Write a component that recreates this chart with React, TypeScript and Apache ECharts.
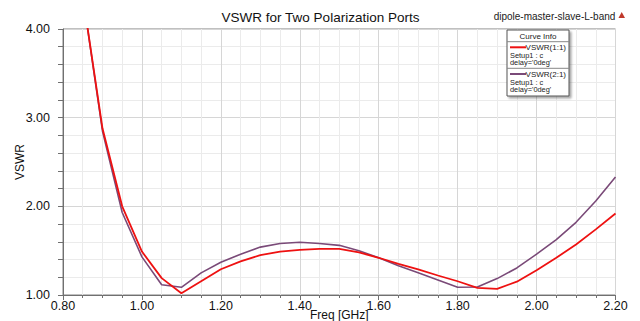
import React, { useEffect, useRef } from "react";
import * as echarts from "echarts";

const freqs = [0.85, 0.9, 0.95, 1.0, 1.05, 1.1, 1.15, 1.2, 1.25, 1.3, 1.35, 1.4, 1.45, 1.5, 1.55, 1.6, 1.65, 1.7, 1.75, 1.8, 1.85, 1.9, 1.95, 2.0, 2.05, 2.1, 2.15, 2.2];
const vswr11 = [4.38, 2.88, 2.0, 1.49, 1.19, 1.02, 1.155, 1.29, 1.38, 1.45, 1.49, 1.51, 1.52, 1.52, 1.48, 1.42, 1.35, 1.29, 1.22, 1.155, 1.08, 1.07, 1.15, 1.28, 1.42, 1.57, 1.74, 1.92];
const vswr21 = [4.38, 2.85, 1.93, 1.43, 1.115, 1.087, 1.25, 1.37, 1.46, 1.54, 1.58, 1.595, 1.58, 1.56, 1.5, 1.42, 1.33, 1.25, 1.17, 1.087, 1.09, 1.185, 1.305, 1.46, 1.625, 1.82, 2.06, 2.33];
const seriesNames = ["VSWR(1:1)", "VSWR(2:1)"];
const seriesColors = ["#ee1111", "#7a4a78"];
const legendSub1 = "Setup1 : c";
const legendSub2 = "delay='0deg'";
const titleText = "VSWR for Two Polarization Ports";
const projectText = "dipole-master-slave-L-band";
const xName = "Freq [GHz]";
const yName = "VSWR";

export default function App() {
  const ref = useRef<HTMLDivElement>(null);
  useEffect(() => {
    if (!ref.current) return;
    const chart = echarts.init(ref.current, null, { renderer: "svg" });
    const font = "Arial, 'Liberation Sans', sans-serif";
    const legendX = 507;
    const legendY = 30;
    const legendEntry = (i: number, y0: number) => [
      { type: "line", z: 11, shape: { x1: legendX + 3, y1: y0, x2: legendX + 19, y2: y0 }, style: { stroke: seriesColors[i], lineWidth: 2 } },
      { type: "text", z: 11, x: legendX + 59, y: y0, style: { text: seriesNames[i], fill: "#222", font: `8px ${font}`, align: "right", verticalAlign: "middle" } },
      { type: "text", z: 11, x: legendX + 3, y: y0 + 8, style: { text: legendSub1, fill: "#222", font: `7.4px ${font}`, align: "left", verticalAlign: "middle" } },
      { type: "text", z: 11, x: legendX + 3, y: y0 + 15.6, style: { text: legendSub2, fill: "#222", font: `7.4px ${font}`, align: "left", verticalAlign: "middle" } },
    ];
    chart.setOption({
      animation: false,
      backgroundColor: "#ffffff",
      grid: { left: 63, right: 24.5, top: 29, bottom: 26, outerBoundsMode: "none", containLabel: false, show: true, borderColor: "#808080", borderWidth: 1, backgroundColor: "transparent" },
      xAxis: {
        type: "value", min: 0.8, max: 2.2, interval: 0.2,
        name: xName, nameLocation: "middle", nameGap: 14, nameMoveOverlap: false,
        nameTextStyle: { fontSize: 12, color: "#111", fontFamily: font, verticalAlign: "top" },
        axisLine: { lineStyle: { color: "#707070" } },
        axisTick: { show: true, length: 5, lineStyle: { color: "#707070" } },
        minorTick: { show: true, splitNumber: 4, length: 3, lineStyle: { color: "#707070" } },
        axisLabel: { formatter: (v: number) => v.toFixed(2), fontSize: 12.5, color: "#111", fontFamily: font, margin: 4 },
        splitLine: { show: true, lineStyle: { color: "#d6d6d6" } },
        minorSplitLine: { show: true, lineStyle: { color: "#ebebeb" } },
      },
      yAxis: {
        type: "value", min: 1, max: 4, interval: 1,
        name: yName, nameLocation: "middle", nameGap: 37, nameMoveOverlap: false,
        nameTextStyle: { fontSize: 12, color: "#111", fontFamily: font },
        axisLine: { show: true, lineStyle: { color: "#707070" } },
        axisTick: { show: true, length: 5, lineStyle: { color: "#707070" } },
        minorTick: { show: true, splitNumber: 5, length: 5, lineStyle: { color: "#707070" } },
        axisLabel: { formatter: (v: number) => v.toFixed(2), fontSize: 12.5, color: "#111", fontFamily: font, margin: 13 },
        splitLine: { show: true, lineStyle: { color: "#d6d6d6" } },
        minorSplitLine: { show: true, lineStyle: { color: "#ebebeb" } },
      },
      series: [
        { name: seriesNames[1], type: "line", data: freqs.map((f, i) => [f, vswr21[i]]), showSymbol: false, clip: true, z: 2, lineStyle: { color: seriesColors[1], width: 1.6 }, itemStyle: { color: seriesColors[1] } },
        { name: seriesNames[0], type: "line", data: freqs.map((f, i) => [f, vswr11[i]]), showSymbol: false, clip: true, z: 3, lineStyle: { color: seriesColors[0], width: 1.8 }, itemStyle: { color: seriesColors[0] } },
      ],
      graphic: [
        { type: "text", x: 320.5, y: 17, style: { text: titleText, fill: "#111", font: `13.5px ${font}`, align: "center", verticalAlign: "middle" } },
        { type: "text", x: 554.5, y: 16.7, style: { text: projectText, fill: "#222", font: `10px ${font}`, align: "center", verticalAlign: "middle" } },
        { type: "polygon", shape: { points: [[621.7, 12], [618.5, 18], [625, 18]] }, style: { fill: "#c0392b" } },
        { type: "rect", shape: { x: legendX, y: legendY, width: 62, height: 66 }, style: { fill: "#ffffff", stroke: "#555555", lineWidth: 1, shadowBlur: 2, shadowOffsetX: 2, shadowOffsetY: 2, shadowColor: "rgba(0,0,0,0.35)" }, z: 10 },
        { type: "text", z: 11, x: legendX + 31, y: 36.3, style: { text: "Curve Info", fill: "#222", font: `8px ${font}`, align: "center", verticalAlign: "middle" } },
        { type: "line", z: 11, shape: { x1: legendX, y1: 41.7, x2: legendX + 62, y2: 41.7 }, style: { stroke: "#888", lineWidth: 1 } },
        ...legendEntry(0, 47.3),
        { type: "line", z: 11, shape: { x1: legendX, y1: 68.3, x2: legendX + 62, y2: 68.3 }, style: { stroke: "#888", lineWidth: 1 } },
        ...legendEntry(1, 74),
      ],
    });
    return () => chart.dispose();
  }, []);
  return <div ref={ref} style={{ width: 640, height: 321, position: "absolute", left: 0, top: 0 }} />;
}
